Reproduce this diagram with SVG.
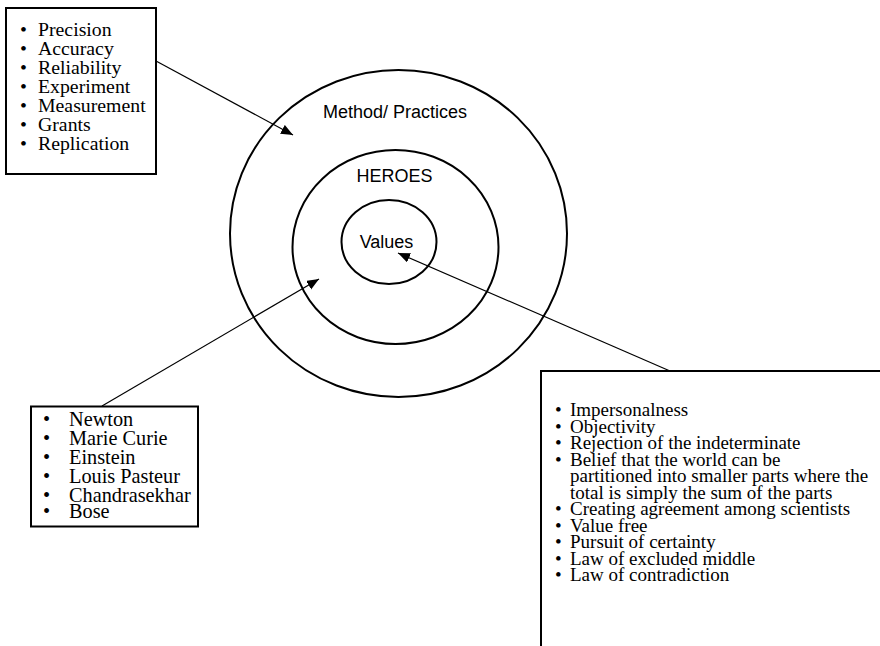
<svg xmlns="http://www.w3.org/2000/svg" width="880" height="646" viewBox="0 0 880 646">
  <defs>
    <marker id="ah" markerUnits="userSpaceOnUse" markerWidth="14" markerHeight="12" refX="12" refY="5" orient="auto">
      <path d="M0,0 L12,5 L0,10 Z" fill="#000"/>
    </marker>
    <style>
      .ring { fill: none; stroke: #000; stroke-width: 2; }
      .box { fill: #fff; stroke: #000; stroke-width: 2; }
      .lbl { font-family: "Liberation Sans", Arial, sans-serif; font-size: 18px; fill: #000; text-anchor: middle; }
      .it { font-family: "Liberation Serif", "Times New Roman", serif; font-size: 19px; fill: #000; }
      .conn { stroke: #000; stroke-width: 1.2; fill: none; marker-end: url(#ah); }
    </style>
  </defs>
  <rect width="880" height="646" fill="#fff"/>

  <g id="outer-circle">
    <ellipse class="ring" cx="398.5" cy="233.5" rx="168.5" ry="163.5"/>
    <text class="lbl" x="395" y="117.5">Method/ Practices</text>
  </g>
  <g id="middle-circle">
    <ellipse class="ring" cx="395.5" cy="247" rx="103" ry="97"/>
    <text class="lbl" x="394.5" y="182">HEROES</text>
  </g>
  <g id="inner-circle">
    <ellipse class="ring" cx="389" cy="242" rx="47.5" ry="42"/>
    <text class="lbl" x="386.5" y="248">Values</text>
  </g>

  <g id="methods-box">
    <rect class="box" x="6" y="8" width="150" height="166"/>
    <text class="it" style="font-size:19.8px">
      <tspan x="20" y="36">•</tspan><tspan x="38" y="36">Precision</tspan>
      <tspan x="20" y="55">•</tspan><tspan x="38" y="55">Accuracy</tspan>
      <tspan x="20" y="74">•</tspan><tspan x="38" y="74">Reliability</tspan>
      <tspan x="20" y="93">•</tspan><tspan x="38" y="93">Experiment</tspan>
      <tspan x="20" y="112">•</tspan><tspan x="38" y="112">Measurement</tspan>
      <tspan x="20" y="131">•</tspan><tspan x="38" y="131">Grants</tspan>
      <tspan x="20" y="150">•</tspan><tspan x="38" y="150">Replication</tspan>
    </text>
  </g>

  <g id="heroes-box">
    <rect class="box" x="31" y="406.5" width="167" height="120"/>
    <text class="it" style="font-size:20.3px">
      <tspan x="43" y="425.5">•</tspan><tspan x="69" y="425.5">Newton</tspan>
      <tspan x="43" y="444.5">•</tspan><tspan x="69" y="444.5">Marie Curie</tspan>
      <tspan x="43" y="463.5">•</tspan><tspan x="69" y="463.5">Einstein</tspan>
      <tspan x="43" y="482.5">•</tspan><tspan x="69" y="482.5">Louis Pasteur</tspan>
      <tspan x="43" y="501.5">•</tspan><tspan x="69" y="501.5">Chandrasekhar</tspan>
      <tspan x="43" y="517.5">•</tspan><tspan x="69" y="517.5">Bose</tspan>
    </text>
  </g>

  <g id="values-box">
    <rect class="box" x="541" y="371" width="380" height="300"/>
    <text class="it">
      <tspan x="555" y="416">•</tspan><tspan x="570" y="416">Impersonalness</tspan>
      <tspan x="555" y="432.5">•</tspan><tspan x="570" y="432.5">Objectivity</tspan>
      <tspan x="555" y="449">•</tspan><tspan x="570" y="449">Rejection of the indeterminate</tspan>
      <tspan x="555" y="465.5">•</tspan><tspan x="570" y="465.5">Belief that the world can be</tspan>
      <tspan x="570" y="482">partitioned into smaller parts where the</tspan>
      <tspan x="570" y="498.5">total is simply the sum of the parts</tspan>
      <tspan x="555" y="515">•</tspan><tspan x="570" y="515">Creating agreement among scientists</tspan>
      <tspan x="555" y="531.5">•</tspan><tspan x="570" y="531.5">Value free</tspan>
      <tspan x="555" y="548">•</tspan><tspan x="570" y="548">Pursuit of certainty</tspan>
      <tspan x="555" y="564.5">•</tspan><tspan x="570" y="564.5">Law of excluded middle</tspan>
      <tspan x="555" y="581">•</tspan><tspan x="570" y="581">Law of contradiction</tspan>
    </text>
  </g>

  <g id="connectors">
    <line class="conn" x1="156" y1="61" x2="293" y2="135"/>
    <line class="conn" x1="102" y1="406" x2="319" y2="279"/>
    <line class="conn" x1="670" y1="371" x2="398" y2="253"/>
  </g>
</svg>
